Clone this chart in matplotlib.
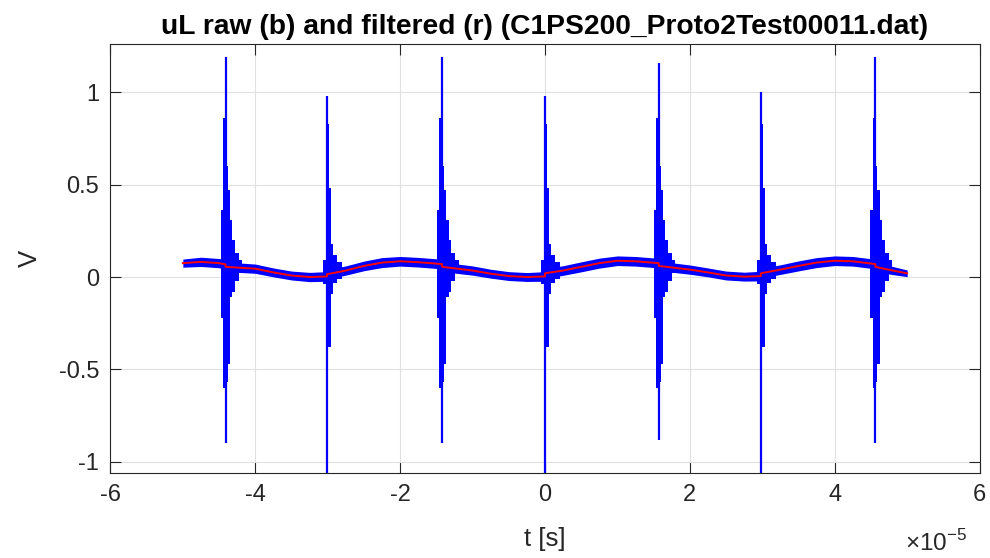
import numpy as np
import matplotlib
matplotlib.use("Agg")
import matplotlib.pyplot as plt

plt.rcParams['font.family'] = ['Liberation Sans', 'DejaVu Sans']
plt.rcParams['axes.unicode_minus'] = False
plt.rcParams['mathtext.fontset'] = 'custom'
plt.rcParams['mathtext.rm'] = 'Liberation Sans'

# ---- data (time in units of 1e-5 s, values in V) ----
# filtered signal (red); repeated times are the small jumps at each spike
t_filt = [-5.0, -4.75, -4.5, -4.41, -4.41, -4.0, -3.75, -3.5, -3.25, -3.01, -3.01,
          -2.75, -2.5, -2.25, -2.0, -1.75, -1.42, -1.42, -1.0, -0.75, -0.5, -0.25,
          0.0, 0.0, 0.25, 0.5, 0.75, 1.0, 1.25, 1.57, 1.57, 2.0, 2.25, 2.5, 2.75,
          2.98, 2.98, 3.25, 3.5, 3.75, 4.0, 4.25, 4.56, 4.56, 4.8, 5.0]
v_filt = [0.075, 0.082, 0.075, 0.068, 0.055, 0.045, 0.025, 0.008, 0.0, 0.003, 0.015,
          0.035, 0.06, 0.078, 0.085, 0.08, 0.07, 0.055, 0.035, 0.018, 0.005, 0.0,
          0.003, 0.02, 0.035, 0.055, 0.075, 0.088, 0.085, 0.075, 0.06, 0.04, 0.025, 0.008, 0.002,
          0.005, 0.02, 0.04, 0.06, 0.078, 0.088, 0.085, 0.07, 0.055, 0.035, 0.02]
# half width of the raw noise band around the filtered curve
band_half = [0.022, 0.025, 0.025, 0.026, 0.026, 0.025, 0.024, 0.024, 0.025, 0.026, 0.026,
             0.025, 0.026, 0.027, 0.026, 0.026, 0.026, 0.026, 0.025, 0.024, 0.024, 0.024,
             0.026, 0.026, 0.026, 0.027, 0.027, 0.026, 0.026, 0.026, 0.026, 0.025, 0.024, 0.024, 0.024,
             0.026, 0.026, 0.026, 0.027, 0.027, 0.026, 0.026, 0.026, 0.026, 0.022, 0.018]

# switching spikes in the raw signal (blue)
spike_t = [-4.41, -3.01, -1.42, 0.0, 1.57, 2.98, 4.56]
spike_hi = [1.19, 0.98, 1.19, 0.98, 1.16, 1.00, 1.19]
spike_lo = [-0.90, -1.10, -0.90, -1.10, -0.88, -1.10, -0.90]
spike_kind = ['A', 'B', 'A', 'B', 'A', 'B', 'A']

# ringing envelope around a spike: segment edges (offset from spike) and max/min per segment
ring_edges = {
    'A': [-0.069, -0.037, -0.009, 0.009, 0.028, 0.06, 0.092, 0.129, 0.184, 0.23],
    'B': [-0.055, -0.018, -0.005, 0.009, 0.028, 0.055, 0.083, 0.138, 0.207],
}
ring_hi = {
    'A': [0.36, 0.86, 0.86, 0.60, 0.47, 0.31, 0.20, 0.13, 0.09],
    'B': [0.09, 0.30, 0.83, 0.83, 0.48, 0.18, 0.12, 0.08],
}
ring_lo = {
    'A': [-0.22, -0.60, -0.60, -0.57, -0.47, -0.11, -0.08, -0.02, 0.02],
    'B': [-0.04, -0.28, -0.38, -0.38, -0.38, -0.09, -0.03, -0.01],
}

# ---- plot ----
fig = plt.figure(figsize=(9.9, 5.58), dpi=100)
ax = fig.add_axes([0.1115, 0.1523, 0.878, 0.7688])

t_f = np.array(t_filt)
v_f = np.array(v_filt)
b_h = np.array(band_half)
ax.fill_between(t_f, v_f - b_h, v_f + b_h, color='blue', lw=0, zorder=2)

for t0, hi, lo, kind in zip(spike_t, spike_hi, spike_lo, spike_kind):
    edges = t0 + np.array(ring_edges[kind])
    hi_vals = ring_hi[kind] + [ring_hi[kind][-1]]
    lo_vals = ring_lo[kind] + [ring_lo[kind][-1]]
    ax.fill_between(edges, lo_vals, hi_vals, step='post', color='blue', lw=0, zorder=2)
    ax.vlines(t0, lo, hi, color='blue', lw=1.6, zorder=2)

ax.plot(t_f, v_f, color='red', lw=1.4, zorder=3)

ax.set_xlim(-6, 6)
ax.set_ylim(-1.06, 1.26)
ax.set_xticks([-6, -4, -2, 0, 2, 4, 6])
ax.set_yticks([-1, -0.5, 0, 0.5, 1])
ax.set_yticklabels(['-1', '-0.5', '0', '0.5', '1'])
ax.grid(True, color='#e0e0e0', lw=0.8)
ax.set_axisbelow(True)
ax.tick_params(direction='in', top=True, right=True, length=8, width=0.8,
               colors='#262626', labelsize=17, pad=8)
for sp in ax.spines.values():
    sp.set_color('#262626')
    sp.set_linewidth(0.8)

ax.set_title('uL raw (b) and filtered (r) (C1PS200_Proto2Test00011.dat)',
             fontsize=20.3, fontweight='bold', color='black', pad=7)
ax.set_xlabel('t [s]', fontsize=18.5, color='#262626', labelpad=15)
ax.set_ylabel('V', fontsize=18.5, color='#262626', labelpad=12)
fig.text(0.914, 0.004, r'$\times$10$^{-5}$', fontsize=17.5, color='#262626',
         ha='left', va='bottom')

fig.savefig('out.png', dpi=100)
